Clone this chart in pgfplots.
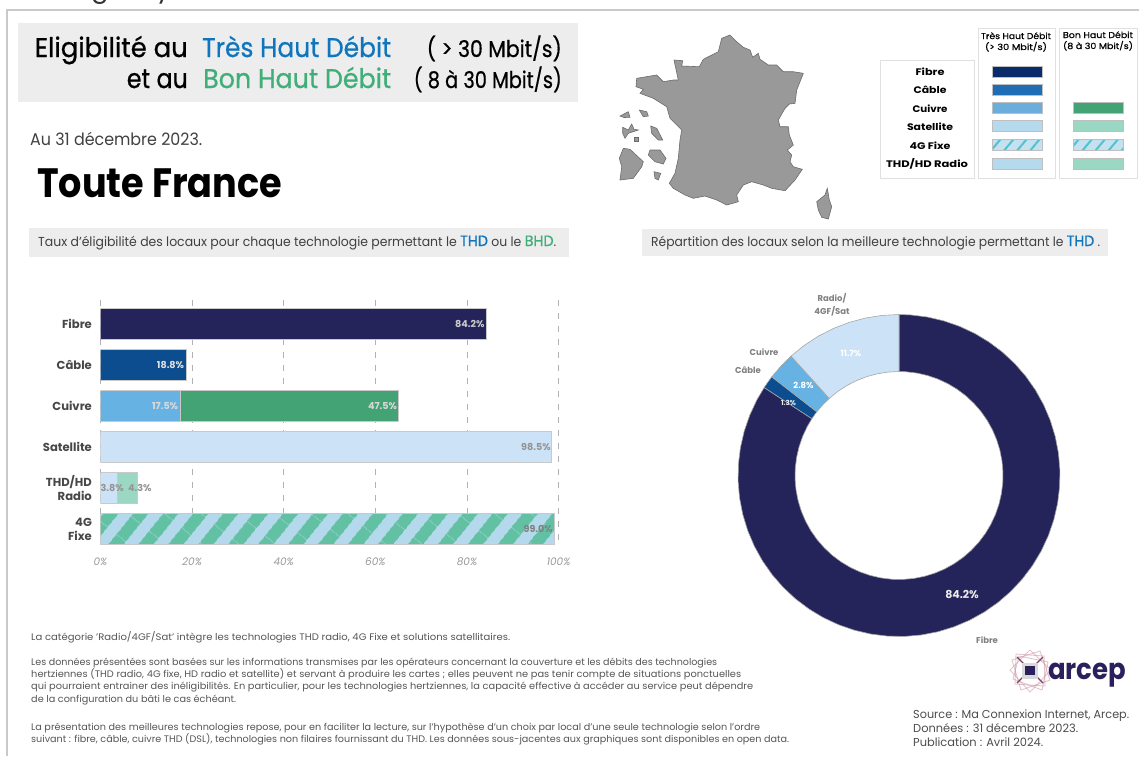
\documentclass[border=0pt]{standalone}
\usepackage{fontspec}
\usepackage{graphicx}
\usepackage{pgfplots}
\usepackage{pgfplotstable}
\pgfplotsset{compat=1.18}
\usetikzlibrary{patterns.meta}
\setmainfont{Poppins}
\newfontfamily\medium{Poppins}[FakeBold=0.7]

\definecolor{navy}{HTML}{25245A}
\definecolor{cable}{HTML}{0B4D8E}
\definecolor{cuivre}{HTML}{66B3E3}
\definecolor{cuivrebhd}{HTML}{44A374}
\definecolor{sat}{HTML}{CCE3F7}
\definecolor{radiobhd}{HTML}{9AD8C3}
\definecolor{hatchbg}{HTML}{B5D9EC}
\definecolor{hatchfg}{HTML}{62C1A2}
\definecolor{thd}{HTML}{0F75BC}
\definecolor{bhd}{HTML}{3FAE78}
\definecolor{panel}{HTML}{EDEDED}
\definecolor{edge}{HTML}{C9C9C9}
\definecolor{bodytxt}{HTML}{555555}
\definecolor{logo}{HTML}{2B1F5C}
\definecolor{lgfibre}{HTML}{0A2C6A}
\definecolor{lgcable}{HTML}{1F6DB5}
\definecolor{lgcuivre}{HTML}{6BAEDB}
\definecolor{lgsat}{HTML}{B5DAEE}
\definecolor{lghatch}{HTML}{C5E0EE}
\definecolor{lgstripe}{HTML}{4FC3D0}
\definecolor{logopink}{HTML}{C98C9E}
\definecolor{logomid}{HTML}{7A3F63}

% bars, one column per colour
\pgfplotstableread{
cat fibre cable cuivre cuivrebhd sat radio radiobhd fourg
0 84.2 0 0 0 0 0 0 0
1 0 18.8 0 0 0 0 0 0
2 0 0 17.5 47.5 0 0 0 0
3 0 0 0 0 98.5 0 0 0
4 0 0 0 0 0 3.8 4.3 0
5 0 0 0 0 0 0 0 99.0
}\bardata

\newcommand{\rect}[5]{\addplot[#5] coordinates {(#1,#2)(#3,#2)(#3,#4)(#1,#4)} -- cycle;}
\newcommand{\T}[5]{\node[anchor=#3,inner sep=0pt,font=\fontsize{#4}{#4}\selectfont] at (#1,#2) {#5};}
% same, squeezed to a given width
\newcommand{\W}[6]{\node[anchor=#3,inner sep=0pt] at (#1,#2) {\resizebox{#5pt}{\height}{\fontsize{#4}{#4}\selectfont #6}};}

% column, label colour, shift from the middle of the segment to the label's right end
\pgfplotsset{
  barlabel/.style n args={3}{
    nodes near coords={\pgfmathfloatifflags{\pgfplotspointmeta}{0}{}{\pgfmathprintnumber[fixed,fixed zerofill,precision=1]{\pgfplotspointmeta}\%}},
    point meta=\thisrow{#1},
    nodes near coords style={anchor=east,inner sep=0pt,text=#2,font=\fontsize{9.6}{9.6}\selectfont\bfseries,xshift=#3pt},
  },
}

\begin{document}
\begin{tikzpicture}[x=1pt,y=-1pt]
\clip (0,0) rectangle (1139,756);

% page furniture, in pixel coordinates
\begin{axis}[at={(0pt,-756pt)},anchor=south west,scale only axis,width=1139pt,height=756pt,
  xmin=0,xmax=1139,ymin=0,ymax=756,y dir=reverse,hide axis,clip=false]
\addplot[draw=edge,line width=2pt] coordinates {(1139,9.5)(6.5,9.5)(6.5,756)};
\rect{18}{23}{578}{102}{fill=panel,draw=none}
\rect{29}{228}{569}{257}{fill=panel,draw=none}
\rect{642}{229}{1108}{256}{fill=panel,draw=none}
% map
\addplot[fill=black!40,draw=black!58,line width=0.6pt] coordinates {
(730,35)(721.7,38.3)(718.3,51.7)(703.3,59.3)(699.3,66.7)(681.7,66)(682.7,60.7)(674,60)(678.3,80)(673.3,80)
(663.3,81.7)(656.7,75)(636.7,78.3)(636,86.7)(643.3,89.3)(640,93.3)(653.3,98.3)(666.7,106.7)(670,118.3)
(681.7,130)(680,140)(678.3,158.3)(675,173.3)(669.3,183.3)(673.3,188.3)(685,195)(693.3,198.3)(705,196)
(716.7,200)(726.7,205)(738.3,201.7)(736.7,195)(743.3,185)(751.7,181.7)(763.3,185)(771.7,188.3)(785,190.7)
(795,180)(802.3,169.3)(793.3,166.7)(790,161.7)(791.7,155)(787.3,150)(793.3,145)(789.3,135)(788.3,126.7)
(780,126.7)(778.3,120)(785,108.3)(789.3,104)(795,103.3)(796.7,90)(803.3,73.3)(793.3,71.7)(783.3,71.7)
(776.7,65)(768.3,65)(760,59.3)(758.3,53.3)(752.7,57.3)(750,50)(743.3,47.3)(736.7,41.7)} -- cycle;
\addplot[fill=black!40,draw=black!58,line width=0.6pt] coordinates {(827.3,188.3)(829.3,200)(831.7,206.7)(828.3,219)(821.7,217.3)(818.3,210)(816.7,201.7)(825,195)} -- cycle;
\addplot[fill=black!40,draw=black!58,line width=0.6pt] coordinates {(623.3,148.3)(630,149.3)(643.3,161.7)(641.7,166.7)(633.3,178.3)(620,180)(621.7,166.7)(619.3,158.3)} -- cycle;
\addplot[fill=black!40,draw=black!58,line width=0.6pt] coordinates {(650,150)(660,150)(666,158.3)(663.3,164)(655,161.7)(648.3,155)} -- cycle;
\addplot[fill=black!40,draw=black!58,line width=0.6pt] coordinates {(654,171.7)(660.7,173.3)(658.3,180)(655,178.3)} -- cycle;
\addplot[fill=black!40,draw=black!58,line width=0.6pt] coordinates {(650.7,126)(656.7,128.3)(662.7,140)(658.3,140)(651.7,133.3)} -- cycle;
\addplot[fill=black!40,draw=black!58,line width=0.6pt] coordinates {(622.7,127.3)(628.3,130)(631.7,124)(634,129.3)(638.3,130)(628.3,133.3)(625,138.3)(622.7,133.3)} -- cycle;
\addplot[fill=black!40,draw=black!58,line width=0.6pt] coordinates {(634,137)(638,137)(638,141)(634,141)} -- cycle;
\addplot[fill=black!40,draw=black!58,line width=0.6pt] coordinates {(620,116)(628.3,111.7)(630,117.3)(624,117.5)} -- cycle;
\addplot[fill=black!40,draw=black!58,line width=0.6pt] coordinates {(639.3,110)(646.7,111.7)(648.3,116)(643.3,116.7)} -- cycle;
% legend panels
\rect{880}{60}{974}{178}{fill=white,draw=black!12,line width=0.7pt}
\rect{978}{28}{1055}{178}{fill=white,draw=black!12,line width=0.7pt}
\rect{1059}{28}{1137}{178}{fill=white,draw=black!12,line width=0.7pt}
\rect{992}{66}{1042}{77}{fill=lgfibre,draw=black!25,line width=0.5pt}
\rect{992}{84}{1042}{95}{fill=lgcable,draw=black!25,line width=0.5pt}
\rect{992}{102}{1042}{113}{fill=lgcuivre,draw=black!25,line width=0.5pt}
\rect{992}{120}{1042}{131}{fill=lgsat,draw=black!25,line width=0.5pt}
\rect{992}{139}{1042}{150}{fill=lghatch,draw=black!25,line width=0.5pt,postaction={pattern={Lines[angle=50,distance=10pt,line width=2pt]},pattern color=lgstripe}}
\rect{992}{158}{1042}{169}{fill=lgsat,draw=black!25,line width=0.5pt}
\rect{1073}{102}{1123}{113}{fill=cuivrebhd,draw=black!25,line width=0.5pt}
\rect{1073}{120}{1123}{131}{fill=radiobhd,draw=black!25,line width=0.5pt}
\rect{1073}{139}{1123}{150}{fill=lghatch,draw=black!25,line width=0.5pt,postaction={pattern={Lines[angle=50,distance=10pt,line width=2pt]},pattern color=lgstripe}}
\rect{1073}{158}{1123}{169}{fill=radiobhd,draw=black!25,line width=0.5pt}
% logo mark
\addplot[draw=logopink,opacity=.5,line width=0.9pt] coordinates {(1012,660)(1040,651)(1050,680)(1021,690)} -- cycle;
\addplot[draw=logopink,opacity=.5,line width=0.9pt] coordinates {(1010,670)(1030,650)(1051,670)(1030,692)} -- cycle;
\addplot[draw=logopink,opacity=.5,line width=0.9pt] coordinates {(1016,654)(1044,656)(1045,686)(1015,684)} -- cycle;
\addplot[draw=logopink,opacity=.5,line width=0.9pt] coordinates {(1019,656)(1048,662)(1042,690)(1013,679)} -- cycle;
\addplot[draw=logomid,line width=1.2pt] coordinates {(1017,657)(1043,683)};
\addplot[draw=logomid,line width=1.2pt] coordinates {(1043,657)(1017,683)};
\rect{1022}{662.5}{1038}{678.5}{fill=black!15,draw=none}
\rect{1025}{666}{1035}{675}{fill=logo,draw=none}
\end{axis}

% eligibility bars
\begin{axis}[at={(100.4pt,-545pt)},anchor=south west,scale only axis,width=458.2pt,height=245pt,
  xbar stacked,stacked ignores zero,bar width=30.7pt,
  xmin=0,xmax=100,ymin=-0.59,ymax=5.39,y dir=reverse,
  axis line style={draw=none},major tick length=0pt,
  xmajorgrids,grid style={black!30,line width=0.7pt,dash pattern=on 6pt off 7pt},
  xtick={0,20,40,60,80,100},xticklabel={\pgfmathprintnumber{\tick}\%},
  /pgf/number format/assume math mode=true,
  xticklabel style={font=\fontsize{10.5}{10.5}\selectfont\itshape,text=black!40,yshift=-9pt},
  ytick={0,1,2,3,4,5},
  yticklabels={Fibre,Câble,Cuivre,Satellite,{THD/HD\\Radio},{4G\\Fixe}},
  yticklabel style={align=right,font=\fontsize{11.6}{14}\selectfont\bfseries,text=black!72,xshift=-5pt},
]
\addplot[fill=navy,draw=edge,line width=0.8pt,barlabel={fibre}{black!20}{191.5}] table[x=fibre,y=cat] {\bardata};
\addplot[fill=cable,draw=edge,line width=0.8pt,barlabel={cable}{black!12}{41}] table[x=cable,y=cat] {\bardata};
\addplot[fill=cuivre,draw=edge,line width=0.8pt,barlabel={cuivre}{black!15}{38}] table[x=cuivre,y=cat] {\bardata};
\addplot[fill=cuivrebhd,draw=edge,line width=0.8pt,barlabel={cuivrebhd}{black!15}{108}] table[x=cuivrebhd,y=cat] {\bardata};
\addplot[fill=sat,draw=edge,line width=0.8pt,barlabel={sat}{black!42}{225}] table[x=sat,y=cat] {\bardata};
\addplot[fill=sat,draw=edge,line width=0.8pt,barlabel={radio}{black!42}{15}] table[x=radio,y=cat] {\bardata};
\addplot[fill=radiobhd,draw=edge,line width=0.8pt,barlabel={radiobhd}{black!42}{24.3}] table[x=radiobhd,y=cat] {\bardata};
\addplot[fill=hatchbg,draw=edge,line width=0.8pt,postaction={pattern={Lines[angle=51,distance=23.5pt,line width=12.5pt]},pattern color=hatchfg},barlabel={fourg}{black!50}{226}] table[x=fourg,y=cat] {\bardata};
\end{axis}

% best technology ring: angles from the shares 84.2, 1.3, 2.8, 11.7 (clockwise from the top)
\begin{axis}[at={(899pt,-475.5pt)},anchor=center,scale only axis,width=340pt,height=340pt,
  xmin=-170,xmax=170,ymin=-170,ymax=170,hide axis,clip=false]
\addplot[data cs=polar,fill=navy,draw=black!35,line width=0.6pt] coordinates {
(146.88,161)(152,161)(158,161)(164,161)(170,161)(176,161)(182,161)(188,161)(194,161)(200,161)(206,161)(212,161)(218,161)(224,161)(230,161)(236,161)(242,161)(248,161)(254,161)(260,161)(266,161)(272,161)(278,161)(284,161)(290,161)(296,161)(302,161)(308,161)(314,161)(320,161)(326,161)(332,161)(338,161)(344,161)(350,161)(356,161)(362,161)(368,161)(374,161)(380,161)(386,161)(392,161)(398,161)(404,161)(410,161)(416,161)(422,161)(428,161)(434,161)(440,161)(446,161)(450,161)
(450,104)(446,104)(440,104)(434,104)(428,104)(422,104)(416,104)(410,104)(404,104)(398,104)(392,104)(386,104)(380,104)(374,104)(368,104)(362,104)(356,104)(350,104)(344,104)(338,104)(332,104)(326,104)(320,104)(314,104)(308,104)(302,104)(296,104)(290,104)(284,104)(278,104)(272,104)(266,104)(260,104)(254,104)(248,104)(242,104)(236,104)(230,104)(224,104)(218,104)(212,104)(206,104)(200,104)(194,104)(188,104)(182,104)(176,104)(170,104)(164,104)(158,104)(152,104)(146.88,104)} -- cycle;
\addplot[data cs=polar,fill=cable,draw=black!35,line width=0.6pt] coordinates {(142.2,161)(144.5,161)(146.88,161)(146.88,104)(144.5,104)(142.2,104)} -- cycle;
\addplot[data cs=polar,fill=cuivre,draw=black!35,line width=0.6pt] coordinates {(132.12,161)(137,161)(142.2,161)(142.2,104)(137,104)(132.12,104)} -- cycle;
\addplot[data cs=polar,fill=sat,draw=black!35,line width=0.6pt] coordinates {(90,161)(96,161)(102,161)(108,161)(114,161)(120,161)(126,161)(132.12,161)(132.12,104)(126,104)(120,104)(114,104)(108,104)(102,104)(96,104)(90,104)} -- cycle;
\end{axis}

% clipped line above the frame
\T{91}{-3}{base west}{26}{\color{black!80}g}
\T{156}{-3}{base west}{26}{\color{black!80}y}

% header
\W{188}{57}{base east}{27}{153}{\medium Eligibilité au}
\W{202}{57}{base west}{27}{189}{\medium\color{thd}Très Haut Débit}
\W{562}{57}{base east}{23}{135}{\medium ( > 30 Mbit/s)}
\W{188}{88}{base east}{27}{61}{\medium et au}
\W{203}{88}{base west}{27}{188}{\medium\color{bhd}Bon Haut Débit}
\W{562}{88}{base east}{23}{148}{\medium ( 8 à 30 Mbit/s)}
\W{30}{145}{base west}{17}{172}{\color{black!75}Au 31 décembre 2023.}
\W{37}{197}{base west}{41}{245}{\bfseries Toute France}
\W{38}{246}{base west}{13}{518}{\color{black!75}Taux d'éligibilité des locaux pour chaque technologie permettant le {\medium\fontsize{15}{15}\selectfont\textcolor{thd}{THD}} ou le {\medium\fontsize{15}{15}\selectfont\textcolor{bhd}{BHD}}.}
\W{651}{246}{base west}{13}{449}{\color{black!75}Répartition des locaux selon la meilleure technologie permettant le {\medium\fontsize{15}{15}\selectfont\textcolor{thd}{THD}} .}

% legend text
\W{1016}{39}{base}{8.5}{70}{\medium Très Haut Débit}
\W{1016}{50}{base}{8.5}{62}{\medium (> 30 Mbit/s)}
\W{1098}{38}{base}{8.5}{70}{\medium Bon Haut Débit}
\W{1098}{49}{base}{8.5}{70}{\medium (8 à 30 Mbit/s)}
\W{930}{75.5}{base}{9.5}{29}{\bfseries Fibre}
\W{930}{93.5}{base}{9.5}{33}{\bfseries Câble}
\W{930}{112}{base}{9.5}{35}{\bfseries Cuivre}
\W{930}{130}{base}{9.5}{46}{\bfseries Satellite}
\W{930}{149}{base}{9.5}{41}{\bfseries 4G Fixe}
\W{927}{167}{base}{9.5}{82}{\bfseries THD/HD Radio}

% ring labels
\T{962}{598}{base}{11}{\bfseries\color{black!8}84.2\%}
\T{851}{356}{base}{8.5}{\bfseries\color{white}11.7\%}
\T{803.5}{388}{base}{8.5}{\bfseries\color{white}2.8\%}
\T{788.5}{405}{base}{7}{\bfseries\color{black!8}1.3\%}
\T{832}{301}{base}{8.5}{\bfseries\color{black!50}Radio/}
\T{832}{314}{base}{8.5}{\bfseries\color{black!50}4GF/Sat}
\T{764}{355}{base}{8.5}{\bfseries\color{black!50}Cuivre}
\T{748}{373}{base}{8.5}{\bfseries\color{black!50}Câble}
\T{987}{643}{base}{8.5}{\bfseries\color{black!50}Fibre}

% notes
\W{31}{640}{base west}{9.5}{479}{\color{bodytxt}La catégorie 'Radio/4GF/Sat' intègre les technologies THD radio, 4G Fixe et solutions satellitaires.}
\W{31}{665}{base west}{9.5}{686}{\color{bodytxt}Les données présentées sont basées sur les informations transmises par les opérateurs concernant la couverture et les débits des technologies}
\W{31}{677}{base west}{9.5}{710}{\color{bodytxt}hertziennes (THD radio, 4G fixe, HD radio et satellite) et servant à produire les cartes ; elles peuvent ne pas tenir compte de situations ponctuelles}
\W{31}{689}{base west}{9.5}{722}{\color{bodytxt}qui pourraient entrainer des inéligibilités. En particulier, pour les technologies hertziennes, la capacité effective à accéder au service peut dépendre}
\W{31}{702}{base west}{9.5}{205}{\color{bodytxt}de la configuration du bâti le cas échéant.}
\W{31}{730}{base west}{9.5}{729}{\color{bodytxt}La présentation des meilleures technologies repose, pour en faciliter la lecture, sur l'hypothèse d'un choix par local d'une seule technologie selon l'ordre}
\W{31}{742}{base west}{9.5}{758}{\color{bodytxt}suivant : fibre, câble, cuivre THD (DSL), technologies non filaires fournissant du THD. Les données sous-jacentes aux graphiques sont disponibles en open data.}
\W{913}{718}{base west}{11.5}{216}{\color{black!70}Source : Ma Connexion Internet, Arcep.}
\W{913}{732}{base west}{11.5}{165}{\color{black!70}Données : 31 décembre 2023.}
\W{913}{746}{base west}{11.5}{130}{\color{black!70}Publication : Avril 2024.}
\W{1048}{679}{base west}{29}{78}{\bfseries\color{logo}arcep}
\end{tikzpicture}
\end{document}
